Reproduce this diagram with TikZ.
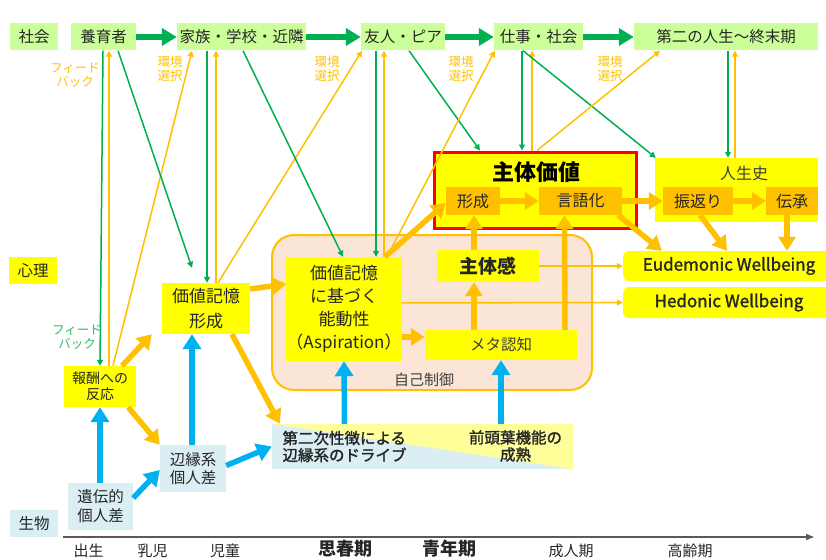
\documentclass[tikz,border=0pt]{standalone}
\usepackage{fontspec}
\setmainfont{Noto Sans CJK JP}
\newfontfamily\semib{Noto Sans CJK JP}[FakeBold=1.6]
\usetikzlibrary{arrows.meta}
\definecolor{lgreen}{HTML}{CCFF99}
\definecolor{yel}{HTML}{FFFF00}
\definecolor{lyel}{HTML}{FFFF99}
\definecolor{obox}{HTML}{FFC000}
\definecolor{peach}{HTML}{FBE5D6}
\definecolor{lblue}{HTML}{DAEEF3}
\definecolor{gline}{HTML}{00B050}
\definecolor{glab}{HTML}{33BB66}
\definecolor{oline}{HTML}{FFC000}
\definecolor{bline}{HTML}{00B0F0}
\definecolor{redb}{HTML}{FF0000}
\definecolor{txt}{HTML}{262626}
\definecolor{gtxt}{HTML}{404040}
\definecolor{axc}{HTML}{595959}
\newcommand{\fsz}[2]{\fontsize{#1}{#2}\selectfont}
\begin{document}
\begin{tikzpicture}[x=1pt,y=-1pt,
  every node/.style={inner sep=0pt, align=center, text=txt},
  topbox/.style={fill=lgreen, minimum height=27pt, font=\fsz{15.5}{18}},
  ybox/.style={fill=yel},
  bbox/.style={fill=lblue},
  ibox/.style={fill=obox, minimum height=28pt, font=\fsz{16}{19}},
  olab/.style={text=oline, font=\fsz{12.5}{13.5}},
  glabel/.style={text=glab, font=\fsz{12.5}{13.5}},
  thinG/.style={draw=gline, line width=1.5pt, -{Triangle[length=6pt,width=6pt]}},
  thinO/.style={draw=oline, line width=1.5pt, -{Triangle[length=6pt,width=6pt]}},
  thickG/.style={draw=gline, line width=6pt, -{Triangle[length=15pt,width=17pt]}},
  thickO/.style={draw=oline, line width=5.5pt, -{Triangle[length=14pt,width=17pt]}},
  thickB/.style={draw=bline, line width=5.5pt, -{Triangle[length=15pt,width=18pt]}},
  axlab/.style={font=\fsz{15}{18}},
  axbold/.style={font=\bfseries\fsz{18}{20}}
]
\useasboundingbox (0,0) rectangle (826,559);

% top row
\node[topbox, minimum width=48pt] (shakai) at (34,37) {社会};
\node[topbox, minimum width=65pt] (yoiku) at (103.5,37) {養育者};
\node[topbox, minimum width=129pt] (kazoku) at (241.5,37) {家族・学校・近隣};
\node[topbox, minimum width=84pt] (yujin) at (403,37) {友人・ピア};
\node[topbox, minimum width=89pt] (shigoto) at (538.5,37) {仕事・社会};
\node[topbox, minimum width=184pt] (daini) at (726,37) {第二の人生～終末期};

% side labels
\node[ybox, minimum width=48pt, minimum height=27pt, font=\fsz{15.5}{18}] (shinri) at (33,270.5) {心理};
\node[bbox, minimum width=48pt, minimum height=27pt, font=\fsz{15.5}{18}] (seibutsu) at (34,523.5) {生物};

% self regulation container
\node[draw=oline, line width=2pt, fill=peach, rounded corners=22pt, minimum width=320pt, minimum height=155pt] (jiko) at (432,312.5) {};
\node[text=gtxt, font=\fsz{15}{18}] (jikot) at (424,380) {自己制御};

% subject value box
\node[draw=redb, line width=3pt, fill=yel, minimum width=202pt, minimum height=76pt] (shukachi) at (535,190) {};
\node[text=black, font=\bfseries\fsz{22}{26}] (shukachit) at (536,172) {主体価値};
\node[ibox, minimum width=54pt] (keisei) at (473,201) {形成};
\node[ibox, minimum width=83pt] (gengo) at (580.5,201) {言語化};

% life history
\node[ybox, minimum width=163pt, minimum height=64pt] (jinsei) at (736.5,190) {};
\node[text=gtxt, font=\fsz{16}{19}] (jinseit) at (744,173) {人生史};
\node[ibox, minimum width=70pt] (furikaeri) at (698,201) {振返り};
\node[ibox, minimum width=52pt] (densho) at (792,201) {伝承};

% wellbeing
\node[ybox, rounded corners=6pt, minimum width=212pt, minimum height=30pt, font=\semib\fsz{17}{19}] (eudo) at (729,266) {Eudemonic Wellbeing};
\node[ybox, rounded corners=6pt, minimum width=212pt, minimum height=31pt, font=\semib\fsz{17}{19}] (hedo) at (729,302.5) {Hedonic Wellbeing};

% inner psych boxes
\node[ybox, minimum width=114pt, minimum height=104pt, font=\fsz{17}{23}] (asp) at (344,309) {価値記憶\\に基づく\\能動性\\（Aspiration）};
\node[ybox, minimum width=102pt, minimum height=32pt, font=\bfseries\fsz{19}{22}] (shutaikan) at (488,266) {主体感};
\node[ybox, minimum width=152pt, minimum height=30pt, font=\fsz{15.5}{18}, text=gtxt] (meta) at (501,345) {メタ認知};
\node[ybox, minimum width=88pt, minimum height=51pt, font=\fsz{17}{25}] (kachi) at (206,308.5) {価値記憶\\形成};
\node[ybox, minimum width=72pt, minimum height=41pt, font=\fsz{14}{16}] (hoshu) at (100,386.5) {報酬への\\反応};

% bio boxes
\node[bbox, minimum width=66pt, minimum height=47pt, font=\fsz{15.5}{18}] (henen) at (193,468.5) {辺縁系\\個人差};
\node[bbox, minimum width=65pt, minimum height=47pt, font=\fsz{15.5}{19}] (iden) at (100.5,506.5) {遺伝的\\個人差};
\node[bbox, minimum width=301pt, minimum height=45pt] (niji) at (422.5,446.5) {};
\fill[lyel] (niji.north west) -- (niji.north east) -- (niji.south east) -- cycle;
\node[align=left, font=\semib\fsz{15.5}{17}] (nijiL) at (344.5,446.5) {第二次性徴による\\辺縁系のドライブ};
\node[font=\semib\fsz{15.5}{17}] (nijiR) at (515.5,446) {前頭葉機能の\\成熟};

% small labels
\node[olab] (fb1) at (75,75) {フィード\\バック};
\node[olab] (ks1) at (170,69) {環境\\選択};
\node[olab] (ks2) at (327,69) {環境\\選択};
\node[olab] (ks3) at (461,69) {環境\\選択};
\node[olab] (ks4) at (610,69) {環境\\選択};
\node[glabel] (fb2) at (77,337) {フィード\\バック};

% thin connectors
\draw[thinG] ([xshift=-0.5pt]yoiku.south) -- (hoshu.north);
\draw[thinO] ([xshift=9pt]hoshu.north) -- ([xshift=5.5pt]yoiku.south);
\draw[thinO] ([xshift=13pt]hoshu.north) -- ([xshift=-49.5pt]kazoku.south);
\draw[thinG] ([xshift=14.5pt]yoiku.south) -- ([xshift=-14pt,yshift=15pt]kachi.north);
\draw[thinG] ([xshift=-34.5pt]kazoku.south) -- ([xshift=1pt]kachi.north);
\draw[thinO] ([xshift=10pt]kachi.north) -- ([xshift=-25.5pt]kazoku.south);
\draw[thinO] ([xshift=12pt]kachi.north) -- ([xshift=-41pt]yujin.south);
\draw[thinG] ([xshift=1.5pt]kazoku.south) -- ([xshift=-1pt]asp.north);
\draw[thinG] ([xshift=-27pt]yujin.south) -- ([xshift=32pt]asp.north);
\draw[thinO] ([xshift=40pt]asp.north) -- ([xshift=-19pt]yujin.south);
\draw[thinG] ([xshift=6pt]yujin.south) -- ([xshift=-55pt]shukachi.north);
\draw[thinO] ([xshift=43pt]asp.north) -- ([xshift=1pt]shigoto.south west);
\draw[thinG] ([xshift=-16.5pt]shigoto.south) -- ([xshift=-13pt]shukachi.north);
\draw[thinO] ([xshift=-3pt]shukachi.north) -- ([xshift=-6.5pt]shigoto.south);
\draw[thinG] ([xshift=-15.5pt]shigoto.south) -- ([xshift=1pt]jinsei.north west);
\draw[thinO] ([xshift=2pt]shukachi.north) -- ([xshift=-66pt]daini.south);
\draw[thinG] ([xshift=2pt]daini.south) -- ([xshift=-8.5pt]jinsei.north);
\draw[thinO] ([xshift=-1.5pt]jinsei.north) -- ([xshift=9pt]daini.south);
\draw[thinO] (shutaikan.east) -- (eudo.west);
\draw[thinO] ([yshift=6pt]asp.east) -- (hedo.west);

% thick green
\draw[thickG] (yoiku.east) -- (kazoku.west);
\draw[thickG] (kazoku.east) -- (yujin.west);
\draw[thickG] (yujin.east) -- (shigoto.west);
\draw[thickG] (shigoto.east) -- (daini.west);

% thick orange
\draw[thickO] ([xshift=22pt]hoshu.north) -- ([xshift=-10pt]kachi.south west);
\draw[thickO] ([xshift=-8pt]hoshu.south east) -- (henen.north west);
\draw[thickO] ([xshift=26pt]kachi.south) -- ([xshift=8pt]niji.north west);
\draw[thickO] ([yshift=19.5pt]kachi.east) -- ([yshift=25pt]asp.west);
\draw[thickO] ([xshift=41pt]asp.north) -- ([yshift=-2pt]keisei.west);
\draw[thickO] ([yshift=-28pt]asp.east) -- ([yshift=8pt]meta.west);
\draw[thickO] ([xshift=-27pt]meta.north) -- ([xshift=-14pt]shutaikan.south);
\draw[thickO] ([xshift=-14pt]shutaikan.north) -- ([xshift=1pt]keisei.south);
\draw[thickO] ([xshift=64pt]meta.north) -- ([xshift=-16pt]gengo.south);
\draw[thickO] (keisei.east) -- (gengo.west);
\draw[thickO] (gengo.east) -- (furikaeri.west);
\draw[thickO] (furikaeri.east) -- (densho.west);
\draw[thickO] ([xshift=-4pt]gengo.south east) -- ([xshift=39pt]eudo.north west);
\draw[thickO] ([xshift=2pt]furikaeri.south) -- ([xshift=-2pt]eudo.north);
\draw[thickO] ([xshift=-5pt]densho.south) -- ([xshift=58pt]eudo.north);

% thick blue
\draw[thickB] ([xshift=-0.5pt]iden.north) -- (hoshu.south);
\draw[thickB] ([yshift=8.5pt]iden.east) -- ([yshift=-1.5pt]henen.west);
\draw[thickB] ([xshift=-1pt]henen.north) -- ([xshift=-14pt]kachi.south);
\draw[thickB] ([yshift=3pt]henen.east) -- (niji.west);
\draw[thickB] ([xshift=-78pt]niji.north) -- (asp.south);
\draw[thickB] ([xshift=78.5pt]niji.north) -- (meta.south);

% axis
\coordinate (ax0) at (63,537);
\coordinate (ax1) at (814,537);
\draw[draw=axc, line width=1.2pt, -{Triangle[length=8pt,width=6pt]}] (ax0) -- (ax1);
\node[axlab] (t1) at (88.5,550.5) {出生};
\node[axlab] (t2) at (152.5,550.5) {乳児};
\node[axlab] (t3) at (225,550.5) {児童};
\node[axbold] (t4) at (345,548.5) {思春期};
\node[axbold] (t5) at (449,548.5) {青年期};
\node[axlab] (t6) at (571,550.5) {成人期};
\node[axlab] (t7) at (690,550.5) {高齢期};
\end{tikzpicture}
\end{document}
